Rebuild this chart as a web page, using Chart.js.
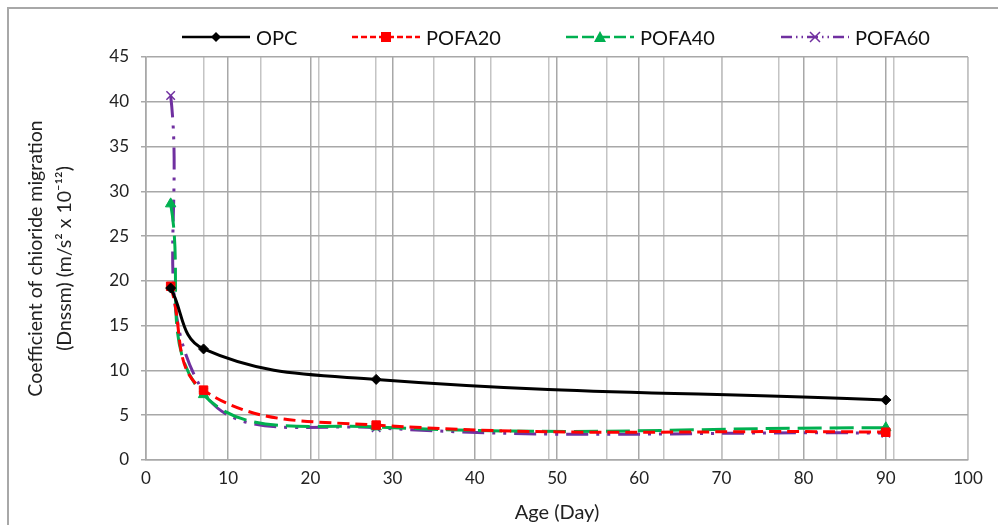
<!DOCTYPE html>
<html>
<head>
<meta charset="utf-8">
<script src="https://cdn.jsdelivr.net/npm/chart.js@4"></script>
<style>
  body { margin: 0; background: #fff; }
  #wrap { position: relative; width: 998px; height: 525px; overflow: hidden; font-family: Lato, "Open Sans", sans-serif; }
  #frame { position: absolute; left: 7px; top: 7px; width: 1100px; height: 600px; border-left: 2px solid #a8a8a8; border-top: 2px solid #a8a8a8; }
  #legend { position: absolute; top: 23px; left: 0; width: 998px; height: 28px; }
  .item { position: absolute; top: 0; height: 28px; display: flex; align-items: center; font-size: 20px; color: #111; }
  .item svg { margin-right: 6px; }
  canvas { position: absolute; left: 0; top: 0; }
</style>
</head>
<body>
<div id="wrap">
  <div id="frame"></div>
  <canvas id="chart" width="998" height="525"></canvas>
  <div id="legend"></div>
</div>
<script>
const ages = [3, 7, 28, 90]
const opc = [19.2, 12.4, 9.0, 6.7]
const pofa20 = [19.4, 7.8, 3.9, 3.1]
const pofa40 = [28.6, 7.3, 3.7, 3.6]
const pofa60 = [40.7, 7.6, 3.6, 3.0]
const xTicks = [0, 10, 20, 30, 40, 50, 60, 70, 80, 90, 100]
const yTicks = [0, 5, 10, 15, 20, 25, 30, 35, 40, 45]

const series = [
  { label: "OPC", data: opc, color: "#000000", dash: [], point: "rectRot", radius: 5, legendX: 182 },
  { label: "POFA20", data: pofa20, color: "#ff0000", dash: [12, 6], point: "rect", radius: 6, legendX: 352 },
  { label: "POFA40", data: pofa40, color: "#00b050", dash: [24, 8], point: "triangle", radius: 6, legendX: 566 },
  { label: "POFA60", data: pofa60, color: "#7030a0", dash: [22, 8, 3, 8, 3, 8], point: "crossRot", radius: 6, legendX: 781 },
]

function markerSvg(s) {
  const c = s.color
  const cx = 34, cy = 14
  if (s.point === "rectRot") return `<polygon points="${cx},${cy - 5} ${cx + 5},${cy} ${cx},${cy + 5} ${cx - 5},${cy}" fill="${c}"/>`
  if (s.point === "rect") return `<rect x="${cx - 5}" y="${cy - 5}" width="10" height="10" fill="${c}"/>`
  if (s.point === "triangle") return `<polygon points="${cx},${cy - 6} ${cx + 6},${cy + 5} ${cx - 6},${cy + 5}" fill="${c}"/>`
  return `<path d="M${cx - 5} ${cy - 5}L${cx + 5} ${cy + 5}M${cx + 5} ${cy - 5}L${cx - 5} ${cy + 5}" stroke="${c}" stroke-width="1.5"/>`
}

const legend = document.getElementById("legend")
series.forEach((s) => {
  const div = document.createElement("div")
  div.className = "item"
  div.style.left = s.legendX + "px"
  const dash = s.dash.length ? `stroke-dasharray="${s.dash.map((d) => d * 0.5).join(" ")}"` : ""
  div.innerHTML =
    `<svg width="68" height="28"><line x1="0" y1="14" x2="68" y2="14" stroke="${s.color}" stroke-width="2.5" ${dash}/>` +
    markerSvg(s) + `</svg><span>${s.label}</span>`
  legend.appendChild(div)
})

const gridColor = "#a8a8a8"
const font = { family: "Lato, 'Open Sans', sans-serif", size: 17 }

new Chart(document.getElementById("chart"), {
  type: "line",
  data: {
    datasets: series.map((s) => ({
      label: s.label,
      data: ages.map((a, i) => ({ x: a, y: s.data[i] })),
      borderColor: s.color,
      backgroundColor: s.color,
      borderWidth: 3,
      borderDash: s.dash,
      pointStyle: s.point,
      pointRadius: s.radius,
      pointBorderWidth: s.point === "crossRot" ? 1.5 : 1,
      tension: 0.4,
      xAxisID: "x",
    })),
  },
  options: {
    responsive: false,
    animation: false,
    layout: { padding: { left: 22, right: 30, top: 57, bottom: 0 } },
    plugins: {
      legend: { display: false },
      tooltip: { enabled: false },
    },
    scales: {
      x: {
        type: "linear",
        min: 0,
        max: 100,
        afterBuildTicks: (scale) => {
          scale.ticks = xTicks.map((v) => ({ value: v }))
        },
        afterFit: (scale) => {
          scale.height = 65
        },
        ticks: { color: "#222", font, padding: 8, autoSkip: false, maxRotation: 0 },
        grid: { color: gridColor, lineWidth: 1.5, drawTicks: false },
        border: { color: gridColor, width: 1.5 },
        title: {
          display: true,
          text: "Age (Day)",
          color: "#222",
          font: { family: font.family, size: 20 },
          padding: { top: 0, bottom: 0 },
        },
      },
      x7: {
        type: "linear",
        position: "bottom",
        min: 0,
        max: 100,
        ticks: { display: false, stepSize: 7 },
        grid: { color: "#c4c4c4", lineWidth: 1.5, drawTicks: false },
        border: { display: false },
        afterFit: (scale) => {
          scale.height = 0
        },
      },
      y: {
        min: 0,
        max: 45,
        afterBuildTicks: (scale) => {
          scale.ticks = yTicks.map((v) => ({ value: v }))
        },
        afterFit: (scale) => {
          scale.width = 124
        },
        ticks: { color: "#222", font, padding: 12 },
        grid: { color: gridColor, lineWidth: 1.5, tickLength: 5 },
        border: { color: gridColor, width: 1.5 },
        title: {
          display: true,
          text: ["Coefficient of chioride migration", "(Dnssm) (m/s\u00b2 x 10\u207b\u00b9\u00b2)"],
          color: "#222",
          font: { family: font.family, size: 19.5, lineHeight: 1.45 },
          padding: { top: 0, bottom: 8 },
        },
      },
    },
  },
})
</script>
</body>
</html>
